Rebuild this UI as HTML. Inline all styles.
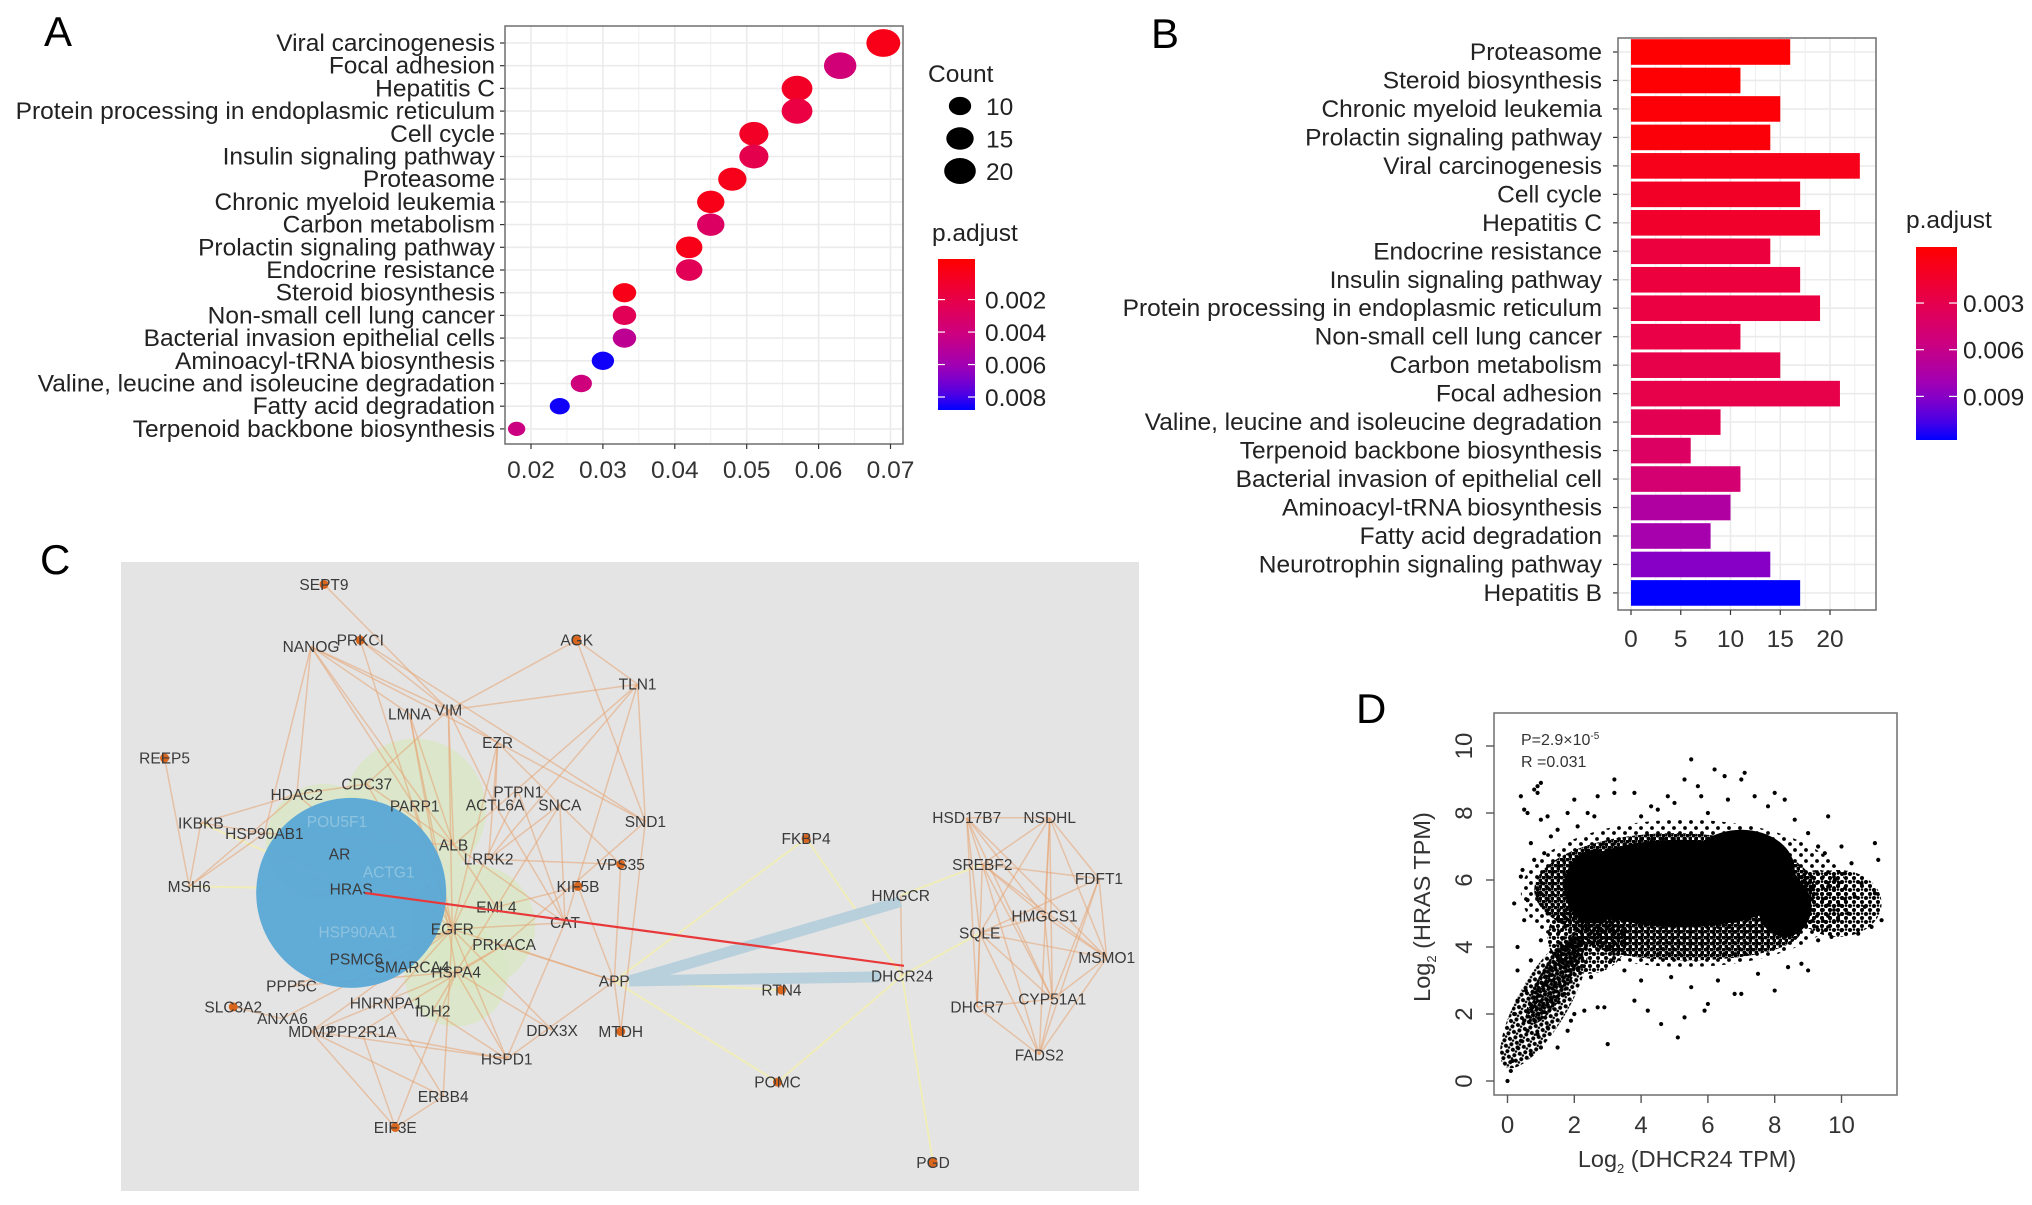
<!DOCTYPE html>
<html><head><meta charset="utf-8"><style>
html,body{margin:0;padding:0;background:#fff;}
svg{display:block;font-family:"Liberation Sans",Arial,sans-serif;}
</style></head><body>
<svg id="fig" width="2032" height="1205" viewBox="0 0 2032 1205" xmlns="http://www.w3.org/2000/svg">
<defs>
<pattern id="stipHi" width="6" height="6" patternUnits="userSpaceOnUse"><circle cx="1.5" cy="1.5" r="2" fill="#000"/><circle cx="4.5" cy="4.5" r="2" fill="#000"/><circle cx="4.5" cy="1" r="1.2" fill="#000"/></pattern>
<pattern id="stipMd" width="8" height="8" patternUnits="userSpaceOnUse"><circle cx="2" cy="2" r="2" fill="#000"/><circle cx="6" cy="6" r="2" fill="#000"/><circle cx="6" cy="1.5" r="1.3" fill="#000"/></pattern>
<pattern id="stipLo" width="11" height="11" patternUnits="userSpaceOnUse"><circle cx="2" cy="3" r="1.9" fill="#000"/><circle cx="8" cy="8" r="1.9" fill="#000"/></pattern>
</defs>
<rect width="2032" height="1205" fill="#fff"/>
<text x="44" y="46" font-size="42">A</text>
<text x="1151" y="48" font-size="42">B</text>
<text x="40" y="574" font-size="42">C</text>
<text x="1356" y="723" font-size="42">D</text>
<g id="pa"></g>
<g id="pb"></g>
<g id="pc"></g>
<g id="pd"></g>
</svg>
<script>
// ---------- Panel A data ----------
const aTerms = ["Viral carcinogenesis","Focal adhesion","Hepatitis C","Protein processing in endoplasmic reticulum","Cell cycle","Insulin signaling pathway","Proteasome","Chronic myeloid leukemia","Carbon metabolism","Prolactin signaling pathway","Endocrine resistance","Steroid biosynthesis","Non-small cell lung cancer","Bacterial invasion epithelial cells","Aminoacyl-tRNA biosynthesis","Valine, leucine and isoleucine degradation","Fatty acid degradation","Terpenoid backbone biosynthesis"];
const aRatio = [0.069,0.063,0.057,0.057,0.051,0.051,0.048,0.045,0.045,0.042,0.042,0.033,0.033,0.033,0.030,0.027,0.024,0.018];
const aCount = [23,21,19,19,17,17,16,15,15,14,14,11,11,11,10,9,8,6];
const aPadj = [0.0003,0.0038,0.0008,0.0018,0.0008,0.0022,0.0004,0.0003,0.0030,0.0003,0.0025,0.0003,0.0025,0.0048,0.0086,0.0040,0.0086,0.0042];
const aXTicks = [0.02,0.03,0.04,0.05,0.06,0.07];
const aXTickLabels = ["0.02","0.03","0.04","0.05","0.06","0.07"];
const aSizeLegend = [10,15,20];
const aColorTicks = [0.002,0.004,0.006,0.008];
// ---------- Panel B data ----------
const bTerms = ["Proteasome","Steroid biosynthesis","Chronic myeloid leukemia","Prolactin signaling pathway","Viral carcinogenesis","Cell cycle","Hepatitis C","Endocrine resistance","Insulin signaling pathway","Protein processing in endoplasmic reticulum","Non-small cell lung cancer","Carbon metabolism","Focal adhesion","Valine, leucine and isoleucine degradation","Terpenoid backbone biosynthesis","Bacterial invasion of epithelial cell","Aminoacyl-tRNA biosynthesis","Fatty acid degradation","Neurotrophin signaling pathway","Hepatitis B"];
const bCount = [16,11,15,14,23,17,19,14,17,19,11,15,21,9,6,11,10,8,14,17];
const bPadj = [-0.0005,-0.0004,-0.0003,-0.0002,0.0006,0.0012,0.0014,0.0022,0.0022,0.0024,0.0026,0.0028,0.0028,0.0032,0.0040,0.0048,0.0072,0.0078,0.0090,0.0118];
const bXTicks = [0,5,10,15,20];
const bColorTicks = [0.003,0.006,0.009];
// ---------- Panel D data ----------
const dXTicks = [0,2,4,6,8,10];
const dYTicks = [0,2,4,6,8,10];
const dPtsX = [0,0.1,0.15,0.3,0.2,0.4,0.5,0.6,0.4,0.45,0.5,0.3,0.3,0.9,1.0,0.9,0.8,1.0,1.2,1.5,2.0,2.1,2.7,3.2,3.2,3.8,4.3,4.8,5.5,5.3,5.7,6.2,6.5,7.0,7.1,8.0,8.3,9.6,10.0,10.3,11.0,11.1,11.0,11.2,10.9,10.5,10.0,9.3,9.0,8.0,7.0,6.8,6.0,5.9,5.3,5.1,4.6,4.2,3.0,2.9,2.7,2.3,3.8,1.5,1.0,0.9,0.7,0.6,0.5,1.2,1.9,2.0,1.7,1.8,9.8,10.1,10.6,10.7,10.2,10.4,9.6,9.9,9.7,8.8,8.4,7.5,6.3,5.5,4.9,4.0,3.5,3.1,2.5,1.8,1.3,1.1,0.8,0.7,2.4,2.6,4.0,4.5,5.0,5.8,6.0,6.6,7.4,7.8,8.6,9.0,9.3,9.5,0.2,0.3,0.4,0.55,0.75,1.1,1.3,1.4,1.0,0.7,0.9,1.2,0.6];
const dPtsY = [0,0.3,0.6,1.0,5.3,8.5,8.1,8.0,6.1,6.3,4.8,4.0,3.3,8.8,8.9,8.6,8.7,7.8,7.9,7.5,8.4,7.6,8.5,9.0,8.6,8.6,8.2,8.5,9.6,9.0,8.8,9.3,9.1,9.0,9.2,8.6,8.4,7.9,7.0,6.5,7.1,6.6,5.6,4.8,4.6,4.4,4.5,4.2,3.3,2.7,2.6,2.6,2.3,2.1,1.9,1.3,1.7,2.1,1.1,2.2,2.2,2.1,2.4,1.0,1.0,1.4,0.8,1.5,1.8,1.6,1.8,2.0,2.6,1.5,6.0,6.2,5.9,5.2,5.0,5.5,5.8,4.8,4.3,3.5,3.4,3.2,3.0,2.8,3.1,3.0,3.3,3.6,3.1,8.0,7.3,6.8,6.6,7.1,8.0,7.9,7.9,8.1,8.3,8.5,8.0,8.4,8.5,8.2,7.8,7.4,7.0,6.8,2.0,2.4,1.2,2.7,2.2,2.9,2.4,3.8,4.2,3.6,5.6,5.0,5.4];
// density regions of the point cloud (data units); level 3=solid,2=dense,1=medium,0=sparse
const dCoreX = [5.3,9.9,1.1,2.4,5.0,5.4,9.3,1.4,5.2,7.0,2.6,8.3];
const dCoreY = [5.6,5.3,2.4,4.3,5.7,4.5,5.4,3.0,5.9,6.3,5.8,5.2];
const dCoreRx = [4.9,1.3,2.3,1.2,4.2,3.4,0.9,1.5,3.5,1.6,0.9,0.8];
const dCoreRy = [2.2,1.0,0.75,1.1,1.7,0.9,0.9,0.45,1.3,1.2,1.1,0.9];
const dCoreAng = [0,0,-60,0,0,0,0,-60,0,0,0,0];
const dCoreLvl = [0,1,1,1,2,2,1,2,3,3,3,3];

const NS="http://www.w3.org/2000/svg";
function mk(parent,tag,attrs,txt){const e=document.createElementNS(NS,tag);for(const k in attrs)e.setAttribute(k,attrs[k]);if(txt!==undefined)e.textContent=txt;parent.appendChild(e);return e;}
function hex(c){return [parseInt(c.substr(1,2),16),parseInt(c.substr(3,2),16),parseInt(c.substr(5,2),16)];}
const stops=[[0,"#FF0000"],[0.25,"#EA0044"],[0.5,"#CC0080"],[0.72,"#9E00B8"],[0.88,"#5A00E0"],[1,"#0000FF"]];
function col(t){t=Math.max(0,Math.min(1,t));for(let i=1;i<stops.length;i++){if(t<=stops[i][0]){const a=stops[i-1],b=stops[i];const f=(t-a[0])/(b[0]-a[0]);const ca=hex(a[1]),cb=hex(b[1]);return "rgb("+ca.map((v,j)=>Math.round(v+(cb[j]-v)*f)).join(",")+")";}}return stops[stops.length-1][1];}
const FS=24.5;

// ================= Panel A =================
(function(){
const g=document.getElementById('pa');
const L=505,R=903,T=26,B=444;
const xA=v=>531+(v-0.02)*7190;
const yA=i=>43+i*22.7;
const pMin=-0.0005,pMax=0.0088;
const cbT=259,cbB=410;
const rOf=c=>2.9*Math.sqrt(c);
let e=mk(g,'rect',{x:L,y:T,width:R-L,height:B-T,fill:'#fff'});

for(let v=0.015;v<0.075;v+=0.005){const x=xA(v);if(x<L||x>R)continue;mk(g,'line',{x1:x,x2:x,y1:T,y2:B,stroke:'#ebebeb','stroke-width':Math.abs((v*1000)%10)<0.1||Math.abs((v*1000)%10-10)<0.1?1.6:0.8});}
aTerms.forEach((t,i)=>{mk(g,'line',{x1:L,x2:R,y1:yA(i),y2:yA(i),stroke:'#ebebeb','stroke-width':1.6});});
aTerms.forEach((t,i)=>{
  const y=yA(i);
  e=mk(g,'text',{x:495,y:y+8,'font-size':FS,'text-anchor':'end',fill:'#222'},t);
  
  mk(g,'line',{x1:L-5,x2:L,y1:y,y2:y,stroke:'#333','stroke-width':1.2});
});
aRatio.forEach((v,i)=>{
  const r=rOf(aCount[i]);
  e=mk(g,'ellipse',{cx:xA(v),cy:yA(i),rx:r*1.22,ry:r,fill:col((aPadj[i]-pMin)/(pMax-pMin))});
  
  
});
e=mk(g,'rect',{x:L,y:T,width:R-L,height:B-T,fill:'none',stroke:'#777','stroke-width':1.6});

aXTicks.forEach((v,i)=>{const x=xA(v);mk(g,'line',{x1:x,x2:x,y1:B,y2:B+5,stroke:'#333','stroke-width':1.2});
  e=mk(g,'text',{x:x,y:478,'font-size':FS,'text-anchor':'middle',fill:'#333'},aXTickLabels[i]);
  });
e=mk(g,'text',{x:928,y:82,'font-size':FS,fill:'#222'},'Count');

aSizeLegend.forEach((c,i)=>{const y=106+i*32.5;const r=rOf(c);
  e=mk(g,'ellipse',{cx:960,cy:y,rx:r*1.22,ry:r,fill:'#000'});
  
  e=mk(g,'text',{x:986,y:y+9,'font-size':FS,fill:'#222'},String(c));
  });
e=mk(g,'text',{x:932,y:241,'font-size':FS,fill:'#222'},'p.adjust');

const defs=mk(g,'defs',{});const lg=mk(defs,'linearGradient',{id:'gA',x1:0,y1:0,x2:0,y2:1});
for(let k=0;k<=10;k++)mk(lg,'stop',{offset:k/10,'stop-color':col(k/10)});
e=mk(g,'rect',{x:938,y:cbT,width:37,height:cbB-cbT,fill:'url(#gA)'});

aColorTicks.forEach(p=>{const y=cbT+(p-pMin)/(pMax-pMin)*(cbB-cbT);
  mk(g,'line',{x1:938,x2:945,y1:y,y2:y,stroke:'#fff','stroke-width':1.2});mk(g,'line',{x1:968,x2:975,y1:y,y2:y,stroke:'#fff','stroke-width':1.2});
  e=mk(g,'text',{x:985,y:y+9,'font-size':FS,fill:'#222'},p.toFixed(3));
  });
})();

// ================= Panel B =================
(function(){
const g=document.getElementById('pb');
const L=1618,R=1876,T=38,B=610;
const xB=v=>1631+v*9.95;
const yB=i=>52+i*28.47;
const pMin=-0.0006,pMax=0.0118;
const cbT=247,cbB=440;
let e=mk(g,'rect',{x:L,y:T,width:R-L,height:B-T,fill:'#fff'});

for(let v=0;v<=25;v+=2.5){const x=xB(v);if(x>R)continue;mk(g,'line',{x1:x,x2:x,y1:T,y2:B,stroke:'#ebebeb','stroke-width':v%5===0?1.6:0.8});}
bTerms.forEach((t,i)=>{const y=yB(i);
  mk(g,'line',{x1:L,x2:R,y1:y,y2:y,stroke:'#ebebeb','stroke-width':1.6});
  e=mk(g,'text',{x:1602,y:y+8,'font-size':FS,'text-anchor':'end',fill:'#222'},t);
  
  mk(g,'line',{x1:L-5,x2:L,y1:y,y2:y,stroke:'#333','stroke-width':1.2});});
bCount.forEach((v,i)=>{
  e=mk(g,'rect',{x:xB(0),y:yB(i)-12.8,width:xB(v)-xB(0),height:25.6,fill:col((bPadj[i]-pMin)/(pMax-pMin))});
  
  });
e=mk(g,'rect',{x:L,y:T,width:R-L,height:B-T,fill:'none',stroke:'#777','stroke-width':1.6});

bXTicks.forEach(v=>{const x=xB(v);mk(g,'line',{x1:x,x2:x,y1:B,y2:B+5,stroke:'#333','stroke-width':1.2});
  e=mk(g,'text',{x:x,y:647,'font-size':FS,'text-anchor':'middle',fill:'#333'},String(v));
  });
e=mk(g,'text',{x:1906,y:228,'font-size':FS,fill:'#222'},'p.adjust');

const defs=mk(g,'defs',{});const lg=mk(defs,'linearGradient',{id:'gB',x1:0,y1:0,x2:0,y2:1});
for(let k=0;k<=10;k++)mk(lg,'stop',{offset:k/10,'stop-color':col(k/10)});
e=mk(g,'rect',{x:1916,y:cbT,width:41,height:cbB-cbT,fill:'url(#gB)'});

bColorTicks.forEach(p=>{const y=cbT+(p-pMin)/(pMax-pMin)*(cbB-cbT);
  mk(g,'line',{x1:1916,x2:1924,y1:y,y2:y,stroke:'#fff','stroke-width':1.2});mk(g,'line',{x1:1949,x2:1957,y1:y,y2:y,stroke:'#fff','stroke-width':1.2});
  e=mk(g,'text',{x:1963,y:y+9,'font-size':FS,fill:'#222'},p.toFixed(3));
  });
})();

// ================= Panel C (network) =================
const cNames=["SEPT9","NANOG","PRKCI","AGK","TLN1","LMNA","VIM","EZR","REEP5","HDAC2","CDC37","PARP1","PTPN1","ACTL6A","SNCA","SND1","IKBKB","HSP90AB1","POU5F1","ALB","AR","LRRK2","VPS35","ACTG1","KIF5B","MSH6","HRAS","EML4","CAT","EGFR","HSP90AA1","PRKACA","PSMC6","SMARCA4","HSPA4","APP","PPP5C","SLC3A2","ANXA6","HNRNPA1","IDH2","MDM2","PPP2R1A","DDX3X","MTDH","HSPD1","ERBB4","EIF3E","FKBP4","HSD17B7","NSDHL","SREBF2","FDFT1","HMGCR","HMGCS1","SQLE","MSMO1","DHCR24","RTN4","CYP51A1","DHCR7","FADS2","POMC","PGD"];
const cPosX=[250,240,278,445,492,316,346,384,127,229,283,320,400,382,432,498,155,204,260,350,262,377,479,300,446,146,271,383,436,349,276,389,275,318,352,474,225,180,218,298,334,240,279,426,479,391,342,305,622,746,810,758,848,695,806,756,854,696,603,812,754,802,600,720];
const cPosY=[451,499,494,494,528,551,548,573,585,613,605,622,611,621,621,634,635,643,634,652,659,663,667,673,684,684,686,700,712,717,719,729,740,746,750,757,761,777,786,774,780,796,796,795,796,817,846,870,647,631,631,667,678,691,707,720,739,753,764,771,777,814,835,897];
const cEdges="SEPT9-VIM NANOG-VIM NANOG-LMNA NANOG-ALB NANOG-HDAC2 NANOG-HSP90AB1 NANOG-PARP1 NANOG-EZR PRKCI-VIM PRKCI-SND1 PRKCI-EGFR AGK-VIM AGK-TLN1 AGK-SND1 TLN1-VIM TLN1-ALB TLN1-SND1 TLN1-CAT TLN1-LRRK2 LMNA-ALB LMNA-EGFR LMNA-HSPA4 VIM-EZR VIM-ALB VIM-ACTL6A VIM-EGFR VIM-CDC37 EZR-ACTL6A EZR-EGFR EZR-LRRK2 EZR-SND1 EZR-SNCA REEP5-MSH6 HDAC2-IKBKB HDAC2-EGFR IKBKB-HSP90AB1 MSH6-HSP90AB1 MSH6-IKBKB MSH6-HDAC2 PTPN1-EGFR SNCA-LRRK2 SNCA-CAT SNCA-VPS35 SNCA-HSPA4 SND1-MTDH SND1-PRKACA VPS35-LRRK2 VPS35-APP KIF5B-APP KIF5B-EML4 CAT-EGFR CAT-ALB CAT-HSPD1 EML4-ALB APP-HSPD1 APP-EGFR APP-MTDH APP-PRKACA DDX3X-HSPA4 DDX3X-EGFR HSPD1-HSPA4 HSPD1-MDM2 HSPD1-IDH2 HSPD1-PPP2R1A HSPD1-EGFR ERBB4-EGFR ERBB4-MDM2 ERBB4-HNRNPA1 EIF3E-MDM2 EIF3E-PPP2R1A EIF3E-ERBB4 EIF3E-HSPA4 PPP5C-HSPA4 PPP5C-EGFR SLC3A2-ANXA6 ANXA6-EGFR MDM2-EGFR MDM2-HSPA4 HNRNPA1-EGFR PPP2R1A-PRKACA IDH2-HSPA4 HSPA4-PRKACA CDC37-EGFR CDC37-ALB PARP1-EGFR ACTL6A-CAT PTPN1-CAT HDAC2-CDC37 HSP90AB1-ALB HSD17B7-NSDHL HSD17B7-SREBF2 HSD17B7-SQLE HSD17B7-DHCR7 HSD17B7-HMGCS1 HSD17B7-MSMO1 HSD17B7-CYP51A1 NSDHL-SREBF2 NSDHL-FDFT1 NSDHL-HMGCS1 NSDHL-SQLE NSDHL-MSMO1 NSDHL-CYP51A1 NSDHL-FADS2 SREBF2-FDFT1 SREBF2-HMGCS1 SREBF2-CYP51A1 SREBF2-DHCR7 SREBF2-MSMO1 SREBF2-FADS2 FDFT1-SQLE FDFT1-MSMO1 FDFT1-CYP51A1 FDFT1-FADS2 HMGCS1-SQLE HMGCS1-MSMO1 HMGCS1-CYP51A1 SQLE-DHCR7 SQLE-CYP51A1 SQLE-MSMO1 SQLE-FADS2 MSMO1-CYP51A1 MSMO1-FADS2 DHCR7-CYP51A1 DHCR7-FADS2 CYP51A1-FADS2 HMGCR-DHCR24".split(" ");
const cFaint="DHCR24-SQLE DHCR24-PGD DHCR24-POMC APP-POMC FKBP4-DHCR24 HMGCR-SREBF2 APP-RTN4 APP-FKBP4 MSH6-HRAS IKBKB-HRAS".split(" ");
const cDots=["SEPT9","REEP5","SLC3A2","FKBP4","RTN4","POMC","PGD","MTDH","VPS35","KIF5B","EIF3E","AGK","PRKCI"];
const cFaintLabels=["POU5F1","ACTG1","HSP90AA1"];
(function(){
const g=document.getElementById('pc');const s=2032/1568;
const P=n=>{const i=cNames.indexOf(n);return [cPosX[i]*s,cPosY[i]*s];};
let e=mk(g,'rect',{x:121,y:562,width:1018,height:629,fill:'#e4e4e4'});

[[320,625,55],[365,715,48],[352,752,40],[250,650,45]].forEach(c=>{e=mk(g,'circle',{cx:c[0]*s,cy:c[1]*s,r:c[2]*s,fill:'#d9e6c6',opacity:0.85});
  });
cFaint.forEach(p=>{const [a,b]=p.split('-');const A=P(a),B=P(b);
  e=mk(g,'line',{x1:A[0],y1:A[1],x2:B[0],y2:B[1],stroke:'#f2eeb4','stroke-width':2,opacity:0.9});
  });
cEdges.forEach(p=>{const [a,b]=p.split('-');const A=P(a),B=P(b);
  e=mk(g,'line',{x1:A[0],y1:A[1],x2:B[0],y2:B[1],stroke:'#e6a472','stroke-width':1.5,opacity:0.55});
  });
const ap=P('APP');
e=mk(g,'line',{x1:ap[0]+15,y1:ap[1],x2:P('HMGCR')[0],y2:P('HMGCR')[1]+6,stroke:'#b8cfdc','stroke-width':11});

e=mk(g,'line',{x1:ap[0]+15,y1:ap[1],x2:P('DHCR24')[0]-22,y2:P('DHCR24')[1]+1,stroke:'#b8cfdc','stroke-width':11});

e=mk(g,'circle',{cx:271*s,cy:689*s,r:95,fill:'#5aa8d6',opacity:0.95});

cDots.forEach(n=>{const p=P(n);e=mk(g,'circle',{cx:p[0],cy:p[1],r:4.5,fill:'#d9661c'});
  });
cNames.forEach((n,i)=>{const p=P(n);
  e=mk(g,'text',{x:p[0],y:p[1]+5.5,'font-size':15.5,'text-anchor':'middle',fill:cFaintLabels.includes(n)?'#8dc3df':'#3a3a3a'},n);
  });
const h=P('HRAS'),d=P('DHCR24');
e=mk(g,'line',{x1:h[0]+14,y1:h[1]+4,x2:d[0]+2,y2:d[1]-10,stroke:'#e8383a','stroke-width':2.2});

})();

// ================= Panel D =================
(function(){
const g=document.getElementById('pd');
const L=1494,R=1897,T=713,B=1095;
const xD=v=>1507.5+v*33.4;
const yD=v=>1081-v*33.5;
const fills=['url(#stipLo)','url(#stipMd)','url(#stipHi)','#000'];
let e;
for(let i=0;i<dCoreX.length;i++){
  e=mk(g,'ellipse',{cx:xD(dCoreX[i]),cy:yD(dCoreY[i]),rx:dCoreRx[i]*33.4,ry:dCoreRy[i]*33.5,fill:fills[dCoreLvl[i]],transform:'rotate('+dCoreAng[i]+' '+xD(dCoreX[i])+' '+yD(dCoreY[i])+')'});
  }
dPtsX.forEach((x,i)=>{e=mk(g,'circle',{cx:xD(x),cy:yD(dPtsY[i]),r:2.1,fill:'#000'});
  });
e=mk(g,'rect',{x:L,y:T,width:R-L,height:B-T,fill:'none',stroke:'#777','stroke-width':1.6});

dXTicks.forEach(v=>{const x=xD(v);mk(g,'line',{x1:x,x2:x,y1:B,y2:B+8,stroke:'#555','stroke-width':1.4});
  e=mk(g,'text',{x:x,y:1133,'font-size':24,'text-anchor':'middle',fill:'#333'},String(v));
  });
dYTicks.forEach(v=>{const y=yD(v);mk(g,'line',{x1:L-8,x2:L,y1:y,y2:y,stroke:'#555','stroke-width':1.4});
  e=mk(g,'text',{x:1472,y:y,'font-size':24,'text-anchor':'middle',fill:'#333',transform:'rotate(-90 1472 '+y+')'},String(v));
  });
e=mk(g,'text',{x:1687,y:1167,'font-size':23.5,'text-anchor':'middle',fill:'#333'});
e.innerHTML='Log<tspan font-size="13" dy="6">2</tspan><tspan dy="-6"> (DHCR24 TPM)</tspan>';

e=mk(g,'text',{x:1430,y:907,'font-size':23.5,'text-anchor':'middle',fill:'#333',transform:'rotate(-90 1430 907)'});
e.innerHTML='Log<tspan font-size="13" dy="6">2</tspan><tspan dy="-6"> (HRAS TPM)</tspan>';

e=mk(g,'text',{x:1521,y:745,'font-size':16,fill:'#333'});
e.innerHTML='P=2.9×10<tspan font-size="10" dy="-6">-5</tspan>';

e=mk(g,'text',{x:1521,y:767,'font-size':16,fill:'#333'},'R =0.031');

})();
</script>
</body></html>
